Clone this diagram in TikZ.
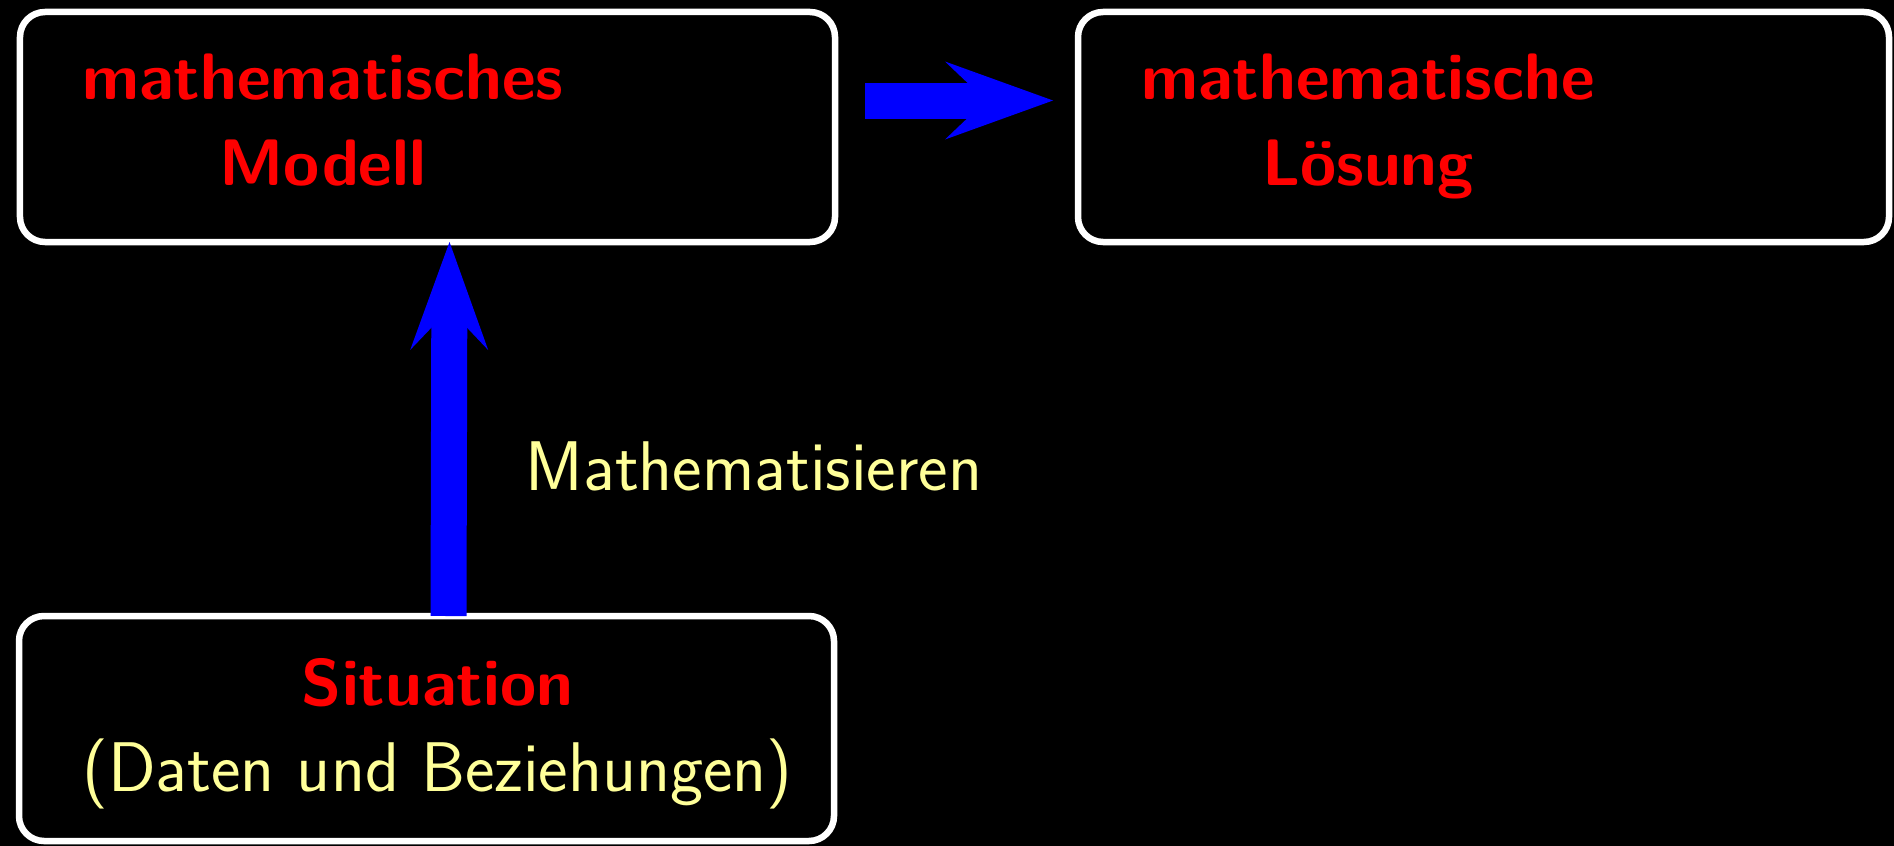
\documentclass[tikz,border=0pt]{standalone}
\usepackage{tikz}
\usetikzlibrary{positioning,arrows.meta}
\usepackage{xcolor}
\definecolor{paleyellow}{RGB}{255,255,153}

\begin{document}
\begin{tikzpicture}[
          every node/.style={font=\sffamily\fontsize{18.7}{24.5}\selectfont},
          box/.style={draw=white,line width=0.065cm,rounded corners=0.25cm,fill=black,
                      minimum width=8.15cm,minimum height=2.3cm,inner sep=0pt,outer sep=0pt},
          boxtext/.style={align=center,anchor=south,inner sep=0pt,text depth=0pt},
          title/.style={boxtext,text=red,font=\sffamily\bfseries\fontsize{18.7}{24.5}\selectfont},
          hint/.style={text=paleyellow,font=\sffamily\fontsize{20}{24.5}\selectfont},
          bigarrow/.style={blue,line width=0.36cm,
                           -{Stealth[length=1.08cm,width=0.78cm,inset=0.41cm,line width=0pt]}},
        ]
        \useasboundingbox (0,0) rectangle (18.94,8.45);
        \fill[black] (-0.1,-0.1) rectangle (19.04,8.55);
        \node[box] (modell) at (4.275,7.18) {};
        \node[box,minimum width=8.11cm] (loesung) at (14.835,7.18) {};
        \node[box,minimum height=2.25cm] (sit) at (4.265,1.165) {};
        \node[title] (modelltext) at (3.23,6.59) {mathematisches\\Modell};
        \node[title] (loesungtext) at (13.68,6.59) {mathematische\\L\"osung};
        \node[boxtext,hint] (sittext) at (4.375,0.53)
          {{\bfseries\fontsize{18.7}{24.5}\selectfont\color{red}Situation}\\(Daten und Beziehungen)};
        \node[hint,anchor=base west,inner sep=0pt] (mathlabel) at (5.25,3.55) {Mathematisieren};
        \draw[bigarrow] ([xshift=0.22cm]sit.north) -- ([xshift=0.22cm]modell.south);
        \draw[bigarrow] ([xshift=0.3cm,yshift=0.265cm]modell.east)
          -- ([xshift=-0.25cm,yshift=0.265cm]loesung.west);
      \end{tikzpicture}
\end{document}
